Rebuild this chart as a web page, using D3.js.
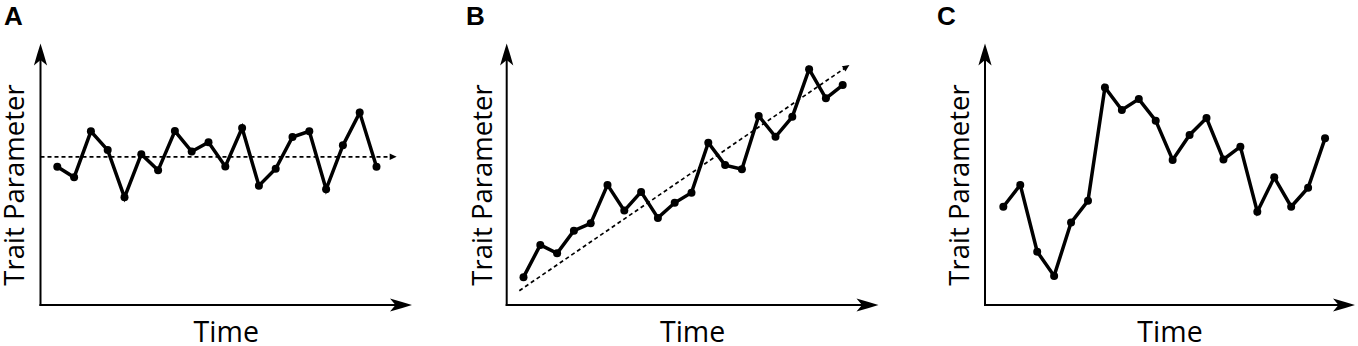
<!DOCTYPE html>
<html>
<head>
<meta charset="utf-8">
<script src="https://cdn.jsdelivr.net/npm/d3@7"></script>
<style>
html,body{margin:0;padding:0;background:#fff;}
svg{display:block;}
</style>
</head>
<body>
<svg id="chart" width="1358" height="346"></svg>
<script>
// ---- data ----
const time = d3.range(1, 21);
const panelLetters = ["A", "B", "C"];
const yLabel = "Trait Parameter";
const xLabel = "Time";
const seriesA = [53.2, 49.1, 66.8, 59.6, 41.4, 58.0, 51.8, 66.9, 59.0, 62.6, 53.3, 68.1, 45.9, 52.4, 64.6, 66.8, 44.5, 61.4, 74.0, 53.2];
const seriesB = [10.7, 23.1, 19.9, 28.6, 31.4, 46.2, 36.3, 43.5, 33.5, 39.3, 43.2, 62.4, 53.8, 52.2, 72.7, 64.7, 72.4, 90.7, 79.5, 84.6];
const seriesC = [37.8, 46.2, 20.5, 11.2, 31.7, 40.1, 83.7, 75.0, 79.2, 70.9, 55.8, 65.4, 71.9, 56.0, 60.9, 35.9, 49.1, 37.8, 45.1, 64.1];
// reference (dashed) lines: [time, value] start and end
const refA = [[0, 57.0], [21.2, 57.0]];
const refB = [[0.75, 5.5], [20.4, 92.3]];

// ---- layout ----
const panels = [
  {letter: panelLetters[0], data: seriesA, ref: refA, axisX: 40.5, range: [40.5, 410.1], tipX: 412, letterX: 4, labelX: 24},
  {letter: panelLetters[1], data: seriesB, ref: refB, axisX: 506.7, range: [506.7, 876.3], tipX: 878.5, letterX: 466, labelX: 491.5},
  {letter: panelLetters[2], data: seriesC, ref: null, axisX: 985, range: [986.4, 1358.9], tipX: 1355, letterX: 937, labelX: 968.5}
];
const axisY = 305, tipY = 43.5;
const y = d3.scaleLinear().domain([0, 100]).range([axisY, 45]);

const svg = d3.select("#chart");

// big arrowhead pointing right, tip at origin
const bigHead = "M0,0 Q-10,-3.2 -22,-6.6 L-16.5,0 L-22,6.6 Q-10,3.2 0,0 Z";
const smallHead = "M0,0 L-7,-3.2 L-7,3.2 Z";

panels.forEach(p => {
  const x = d3.scaleLinear().domain([0, 22]).range(p.range);
  const g = svg.append("g");

  // panel letter
  g.append("text")
    .attr("x", p.letterX).attr("y", 25)
    .attr("font-family", "Liberation Sans, Arial, sans-serif")
    .attr("font-weight", "bold").attr("font-size", 26)
    .text(p.letter);

  // axes
  g.append("line").attr("x1", p.axisX).attr("y1", axisY + 1).attr("x2", p.axisX).attr("y2", tipY + 14)
    .attr("stroke", "#000").attr("stroke-width", 2);
  g.append("line").attr("x1", p.axisX - 1).attr("y1", axisY).attr("x2", p.tipX - 14).attr("y2", axisY)
    .attr("stroke", "#000").attr("stroke-width", 2);
  g.append("path").attr("d", bigHead).attr("fill", "#000")
    .attr("transform", `translate(${p.tipX},${axisY})`);
  g.append("path").attr("d", bigHead).attr("fill", "#000")
    .attr("transform", `translate(${p.axisX},${tipY}) rotate(-90)`);

  // axis labels
  g.append("text")
    .attr("transform", `translate(${p.labelX},${185}) rotate(-90)`)
    .attr("text-anchor", "middle")
    .attr("font-family", "Open Sans, sans-serif").attr("font-size", 27.5)
    .text(yLabel);
  g.append("text")
    .attr("x", (p.axisX + p.tipX) / 2).attr("y", 342)
    .attr("text-anchor", "middle")
    .attr("font-family", "Open Sans, sans-serif").attr("font-size", 28.5)
    .text(xLabel);

  // dashed reference line
  if (p.ref) {
    const [a, b] = p.ref;
    const x1 = x(a[0]), y1 = y(a[1]), x2 = x(b[0]), y2 = y(b[1]);
    const ang = Math.atan2(y2 - y1, x2 - x1);
    const len = Math.hypot(x2 - x1, y2 - y1) - 6;
    g.append("line")
      .attr("x1", x1).attr("y1", y1)
      .attr("x2", x1 + len * Math.cos(ang)).attr("y2", y1 + len * Math.sin(ang))
      .attr("stroke", "#000").attr("stroke-width", 1.7)
      .attr("stroke-dasharray", "4,3");
    g.append("path").attr("d", smallHead).attr("fill", "#000")
      .attr("transform", `translate(${x2},${y2}) rotate(${ang * 180 / Math.PI})`);
  }

  // series line
  const line = d3.line().x((d, i) => x(time[i])).y(d => y(d));
  g.append("path").datum(p.data).attr("d", line)
    .attr("fill", "none").attr("stroke", "#000").attr("stroke-width", 3.5)
    .attr("stroke-linejoin", "miter");
  g.selectAll("circle.pt").data(p.data).enter().append("circle")
    .attr("class", "pt")
    .attr("cx", (d, i) => x(time[i])).attr("cy", d => y(d)).attr("r", 4)
    .attr("fill", "#000");
});
</script>
</body>
</html>
